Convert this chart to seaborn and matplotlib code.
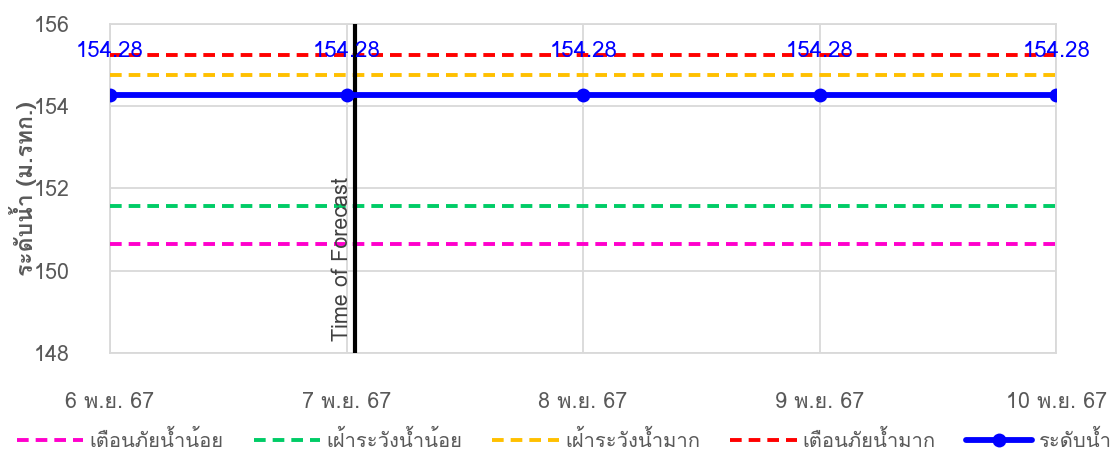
import numpy as np
import pandas as pd
import matplotlib
matplotlib.use("Agg")
import matplotlib.pyplot as plt
import seaborn as sns
from matplotlib import font_manager
from matplotlib.ft2font import FT2Font

# ---- data ----
dates = ["6 พ.ย. 67", "7 พ.ย. 67", "8 พ.ย. 67", "9 พ.ย. 67", "10 พ.ย. 67"]
water_level = [154.28, 154.28, 154.28, 154.28, 154.28]
warn_low = [150.65, 150.65, 150.65, 150.65, 150.65]
watch_low = [151.57, 151.57, 151.57, 151.57, 151.57]
watch_high = [154.75, 154.75, 154.75, 154.75, 154.75]
warn_high = [155.25, 155.25, 155.25, 155.25, 155.25]
forecast_pos = 1.035
y_ticks = [148, 150, 152, 154, 156]

series_names = ["เตือนภัยน้ำน้อย", "เฝ้าระวังน้ำน้อย", "เฝ้าระวังน้ำมาก", "เตือนภัยน้ำมาก", "ระดับน้ำ"]
series_vals = [warn_low, watch_low, watch_high, warn_high, water_level]
series_colors = ["#FF00CC", "#00CC66", "#FFC000", "#FF0000", "#0000FF"]

sns.set_theme(style="white")

# find a font with Thai glyphs
thai_font = None
for f in font_manager.fontManager.ttflist:
    try:
        cm = FT2Font(f.fname).get_charmap()
        if 0x0E19 in cm and 0x0E49 in cm:
            thai_font = f.name
            break
    except Exception:
        pass
fams = ([thai_font] if thai_font else []) + ["DejaVu Sans"]
plt.rcParams["font.family"] = fams

fig = plt.figure(figsize=(11.15, 4.53), dpi=100)
ax = fig.add_axes([0.0987, 0.2208, 0.8485, 0.7262])

x = np.arange(len(dates))
rows = []
for name, vals in zip(series_names, series_vals):
    for xi, v in zip(x, vals):
        rows.append({"x": xi, "y": v, "s": name})
df = pd.DataFrame(rows)

for name, vals, col in zip(series_names, series_vals, series_colors):
    sub = df[df["s"] == name]
    if name == "ระดับน้ำ":
        sns.lineplot(data=sub, x="x", y="y", ax=ax, color=col, lw=4.2,
                     marker="o", markersize=10, markeredgewidth=0, label=name, zorder=5)
    else:
        sns.lineplot(data=sub, x="x", y="y", ax=ax, color=col, lw=2.8,
                     linestyle=(0, (3.0, 1.8)), label=name, zorder=3)

for xi, v in zip(x, water_level):
    ax.annotate(f"{v:.2f}", (xi, v), xytext=(0, 31), textcoords="offset points",
                ha="center", va="center", color="#0000FF", fontsize=16, zorder=6)

ax.axvline(forecast_pos, color="black", lw=3, zorder=4)
ax.text(forecast_pos - 0.006, 148.3, "Time of Forecast", rotation=90, ha="right", va="bottom",
        fontsize=15.5, color="#404040", zorder=6)

ax.set_xlim(x[0], x[-1])
ax.set_ylim(148, 156)
ax.set_xticks(x)
ax.set_xticklabels(dates)
ax.set_yticks(y_ticks)
ax.grid(True, color="#D9D9D9", lw=1.3)
for s in ax.spines.values():
    s.set_color("#D9D9D9")
    s.set_linewidth(1.3)
ax.tick_params(axis="both", colors="#595959", labelsize=15.5, length=0)
ax.tick_params(axis="x", pad=28)
ax.tick_params(axis="y", pad=29)
ax.set_xlabel("")
ax.set_ylabel("ระดับน้ำ (ม.รทก.)", fontsize=16.5, fontweight="bold", color="#595959", labelpad=-2)

handles, labels = ax.get_legend_handles_labels()
ax.get_legend().remove()
fig.legend(handles, labels, loc="center", bbox_to_anchor=(0.506, 13 / 453), ncol=5, frameon=False,
           fontsize=14.5, handlelength=3.3, columnspacing=1.5, handletextpad=0.3,
           labelcolor="#595959")

fig.savefig("out.png", dpi=100)
